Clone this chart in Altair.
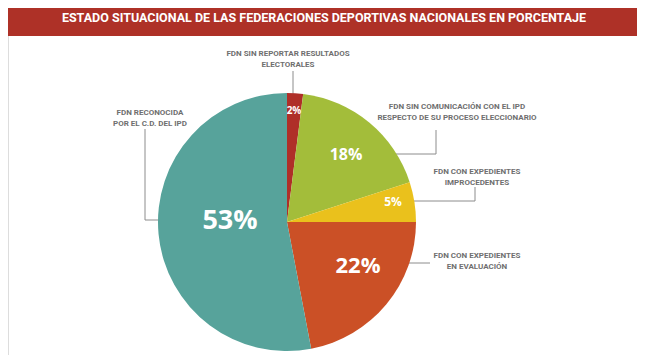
import altair as alt
import pandas as pd

# ---- data ----
categories = [
    "FDN SIN REPORTAR RESULTADOS ELECTORALES",
    "FDN SIN COMUNICACIÓN CON EL IPD RESPECTO DE SU PROCESO ELECCIONARIO",
    "FDN CON EXPEDIENTES IMPROCEDENTES",
    "FDN CON EXPEDIENTES EN EVALUACIÓN",
    "FDN RECONOCIDA POR EL C.D. DEL IPD",
]
values = [2, 18, 5, 22, 53]
pct_text = ["2%", "18%", "5%", "22%", "53%"]
label_lines = [
    ["FDN SIN REPORTAR RESULTADOS", "ELECTORALES"],
    ["FDN SIN COMUNICACIÓN CON EL IPD", "RESPECTO DE SU PROCESO ELECCIONARIO"],
    ["FDN CON EXPEDIENTES", "IMPROCEDENTES"],
    ["FDN CON EXPEDIENTES", "EN EVALUACIÓN"],
    ["FDN RECONOCIDA", "POR EL C.D. DEL IPD"],
]
colors = ["#AF2F28", "#A3BD3A", "#EAC11C", "#CB5026", "#57A39B"]
title = "ESTADO SITUACIONAL DE LAS FEDERACIONES DEPORTIVAS NACIONALES EN PORCENTAJE"

# ---- layout (page coordinates) ----
W, H = 629, 347
CX, CY, R = 287, 222, 129
pct_pos = [(294, 111), (346, 155), (393, 202), (358, 266), (230, 221)]
pct_size = [10, 16, 12, 22, 27]
lab_pos = [(288, 54), (457, 107), (477, 172), (477, 256), (150, 113)]
leaders = [
    [(293, 71), (293, 100)],
    [(371, 154), (436, 154), (436, 130)],
    [(406, 201), (475, 201), (475, 187)],
    [(388, 263), (430, 263)],
    [(145, 129), (145, 220), (197, 220)],
]

xs = alt.Scale(domain=[8, 8 + W], range=[0, W], nice=False, zero=False)
ys = alt.Scale(domain=[8, 8 + H], range=[0, H], nice=False, zero=False)

pie_df = pd.DataFrame({"cat": categories, "val": values, "ord": list(range(len(values)))})
pie = alt.Chart(pie_df).mark_arc(outerRadius=R).encode(
    theta=alt.Theta("val:Q", stack=True),
    order=alt.Order("ord:Q"),
    color=alt.Color("cat:N", scale=alt.Scale(domain=categories, range=colors), legend=None),
    x=alt.value(CX - 8),
    y=alt.value(CY - 8),
)

pct_df = pd.DataFrame({
    "t": pct_text,
    "x": [p[0] for p in pct_pos],
    "y": [p[1] for p in pct_pos],
    "s": pct_size,
})
pct = alt.Chart(pct_df).mark_text(
    font="Open Sans", fontWeight="bold", color="white", align="center", baseline="middle"
).encode(
    x=alt.X("x:Q", scale=xs, axis=None),
    y=alt.Y("y:Q", scale=ys, axis=None),
    text="t:N",
    size=alt.Size("s:Q", scale=None, legend=None),
)

lab_df = pd.DataFrame({
    "t": label_lines,
    "x": [p[0] for p in lab_pos],
    "y": [p[1] for p in lab_pos],
})
labs = alt.Chart(lab_df).mark_text(
    font="Roboto", fontWeight="bold", fontSize=8, color="#6f6f6f",
    align="center", baseline="middle", lineHeight=11,
).encode(
    x=alt.X("x:Q", scale=xs, axis=None),
    y=alt.Y("y:Q", scale=ys, axis=None),
    text="t",
)

rows = []
for i, pts in enumerate(leaders):
    for j, (px, py) in enumerate(pts):
        rows.append({"g": i, "k": j, "x": px, "y": py})
lead_df = pd.DataFrame(rows)
lead = alt.Chart(lead_df).mark_line(color="#8c8c8c", strokeWidth=1).encode(
    x=alt.X("x:Q", scale=xs, axis=None),
    y=alt.Y("y:Q", scale=ys, axis=None),
    detail="g:N",
    order="k:Q",
)

bar = alt.Chart(pd.DataFrame({"a": [0]})).mark_rect(color="#AE3127").encode(
    x=alt.value(0), x2=alt.value(W), y=alt.value(0), y2=alt.value(28)
)
title_txt = alt.Chart(pd.DataFrame({"t": [title]})).mark_text(
    font="Roboto", fontWeight="bold", fontSize=12.5, color="white",
    align="center", baseline="middle",
).encode(x=alt.value(324 - 8), y=alt.value(10), text="t:N")

chart = alt.layer(bar, title_txt, lead, pie, pct, labs).properties(
    width=W, height=H, padding=0, autosize=alt.AutoSizeParams(type="none")
).configure_view(stroke=None).configure(background="white")

chart.save("out.html", embed_options={"renderer": "svg", "actions": False})
